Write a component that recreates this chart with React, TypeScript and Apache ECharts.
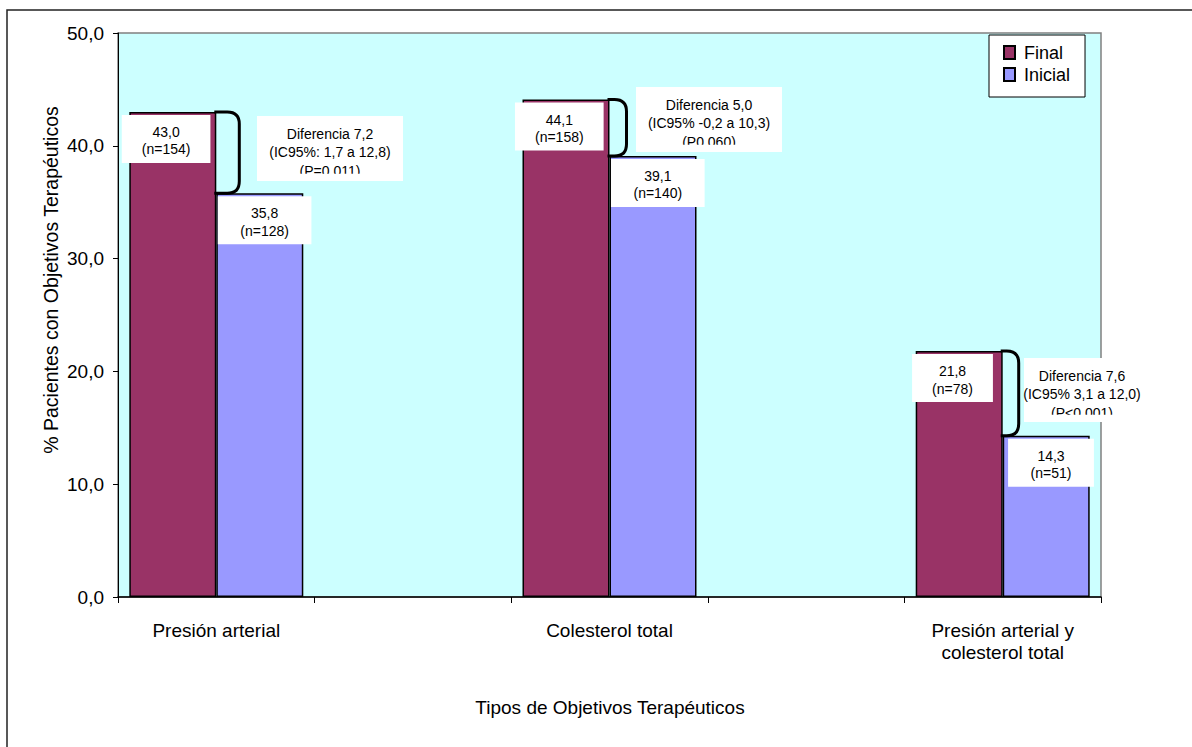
import React, { useEffect, useRef } from "react";
import * as echarts from "echarts";

// Objetivos terapéuticos: porcentaje de pacientes al inicio y al final
const CATEGORIES = ["Presión arterial", "Colesterol total", "Presión arterial y\ncolesterol total"];
const FINAL = [43.0, 44.1, 21.8];
const INICIAL = [35.8, 39.1, 14.3];
const FINAL_N = [154, 158, 78];
const INICIAL_N = [128, 140, 51];
const DIFERENCIAS = [
  "Diferencia 7,2\n(IC95%: 1,7 a 12,8)\n(P=0.011)",
  "Diferencia 5,0\n(IC95% -0,2 a 10,3)\n(P0.060)",
  "Diferencia 7,6\n(IC95% 3,1 a 12,0)\n(P<0.001)",
];
const Y_MIN = 0;
const Y_MAX = 50;
const Y_STEP = 10;

const FONT = "'Liberation Sans', Arial, sans-serif";
const BRACKET_REACH = [23, 17, 16];

// Each category is followed by an empty slot, so groups sit on every other band.
const slots: string[] = [];
CATEGORIES.forEach((c, i) => {
  slots.push(c);
  if (i < CATEGORIES.length - 1) slots.push("");
});
const slotOf = (i: number) => i * 2;

const spread = (vals: number[]) => {
  const out: (number | string)[] = slots.map(() => "-");
  vals.forEach((v, i) => (out[slotOf(i)] = v));
  return out;
};
const countOf = (ns: number[]) => {
  const m: Record<number, number> = {};
  ns.forEach((n, i) => (m[slotOf(i)] = n));
  return m;
};
const fmt = (v: number) => v.toFixed(1).replace(".", ",");

// Annotation boxes with the difference between both measurements
const noteBoxes = [
  { x: 257, y: 116, w: 146, h: 65 },
  { x: 636, y: 87, w: 146, h: 65 },
  { x: 1024, y: 358, w: 116, h: 64 },
];

export default function App() {
  const ref = useRef<HTMLDivElement>(null);

  useEffect(() => {
    if (!ref.current) return;
    const chart = echarts.init(ref.current, null, { renderer: "svg" });
    const finalN = countOf(FINAL_N);
    const inicialN = countOf(INICIAL_N);

    const labelBase = {
      show: true,
      position: "insideTop",
      distance: 3,
      backgroundColor: "#ffffff",
      color: "#000",
      fontFamily: FONT,
      fontSize: 14,
      lineHeight: 17.5,
      align: "center",
    };

    const graphics: any[] = [
      {
        type: "rect",
        shape: { x: 7, y: 10, width: 1300, height: 900 },
        style: { fill: "none", stroke: "#222", lineWidth: 1.5 },
        silent: true,
      },
      {
        type: "text",
        x: 51,
        y: 280,
        rotation: Math.PI / 2,
        style: {
          text: "% Pacientes con Objetivos Terapéuticos",
          fontFamily: FONT,
          fontSize: 19.5,
          fill: "#000",
          align: "center",
          verticalAlign: "middle",
        },
      },
      {
        type: "text",
        x: 610,
        y: 707,
        style: {
          text: "Tipos de Objetivos Terapéuticos",
          fontFamily: FONT,
          fontSize: 19,
          fill: "#000",
          align: "center",
          verticalAlign: "middle",
        },
      },
    ];

    noteBoxes.forEach((b, i) => {
      graphics.push({
        type: "rect",
        z: 100,
        shape: { x: b.x, y: b.y, width: b.w, height: b.h },
        style: { fill: "#ffffff" },
      });
      graphics.push({
        type: "text",
        z: 101,
        x: b.x + b.w / 2,
        y: b.y + 8.3,
        style: {
          text: DIFERENCIAS[i],
          fontFamily: FONT,
          fontSize: 14,
          lineHeight: 18.5,
          fill: "#000",
          align: "center",
          verticalAlign: "top",
        },
      });
      // inner text frame cuts the last line
      graphics.push({
        type: "rect",
        z: 102,
        shape: { x: b.x, y: b.y + b.h - 7.3, width: b.w, height: 7.3 },
        style: { fill: "#ffffff" },
      });
    });

    chart.setOption({
      animation: false,
      grid: {
        left: 118,
        top: 33,
        right: 91,
        bottom: 150,
        show: true,
        backgroundColor: "#CCFFFF",
        borderColor: "#808080",
        borderWidth: 1.5,
        containLabel: false,
        outerBoundsMode: "none",
      },
      legend: {
        data: ["Final", "Inicial"],
        orient: "vertical",
        left: 989,
        top: 35,
        padding: [8, 15, 13, 14],
        itemWidth: 11,
        itemHeight: 13,
        itemGap: 3,
        icon: "rect",
        selectedMode: false,
        backgroundColor: "#ffffff",
        borderColor: "#000",
        borderWidth: 1,
        textStyle: {
          fontFamily: FONT,
          fontSize: 18,
          lineHeight: 19,
          color: "#000",
          padding: [0, 0, 0, 4],
        },
      },
      xAxis: {
        type: "category",
        data: slots,
        axisLine: { lineStyle: { color: "#000", width: 1.5 } },
        axisTick: { show: true, length: 6, lineStyle: { color: "#000" } },
        axisLabel: {
          interval: 0,
          margin: 22,
          fontFamily: FONT,
          fontSize: 19,
          lineHeight: 22,
          color: "#000",
        },
      },
      yAxis: {
        type: "value",
        min: Y_MIN,
        max: Y_MAX,
        interval: Y_STEP,
        splitLine: { show: false },
        axisLine: { show: true, lineStyle: { color: "#000", width: 1 } },
        axisTick: { show: true, length: 5, lineStyle: { color: "#000" } },
        axisLabel: {
          margin: 14,
          fontFamily: FONT,
          fontSize: 19,
          color: "#000",
          formatter: (v: number) => fmt(v),
        },
      },
      series: [
        {
          name: "Final",
          type: "bar",
          barWidth: 87,
          barGap: "0%",
          data: spread(FINAL),
          itemStyle: { color: "#993366", borderColor: "#000", borderWidth: 1.5 },
          label: {
            ...labelBase,
            offset: [-6.7, 0],
            padding: [8.25, 20, 4.75, 20],
            formatter: (p: any) => `${fmt(p.value)}\n(n=${finalN[p.dataIndex]})`,
          },
        },
        {
          name: "Inicial",
          type: "bar",
          barWidth: 87,
          barGap: "0%",
          data: spread(INICIAL),
          itemStyle: { color: "#9999FF", borderColor: "#000", borderWidth: 1.5 },
          label: {
            ...labelBase,
            offset: [4.8, 0],
            padding: [8.25, 22.5, 4.75, 22.5],
            formatter: (p: any) => `${fmt(p.value)}\n(n=${inicialN[p.dataIndex]})`,
          },
        },
        {
          // curly bracket joining the two bar tops of each group
          name: "bracket",
          type: "custom",
          z: 5,
          silent: true,
          encode: { x: 0, y: [1, 2] },
          data: FINAL.map((f, i) => [slotOf(i), f, INICIAL[i]]),
          renderItem: (params: any, api: any) => {
            const slot = api.value(0);
            const top = api.coord([slot, api.value(1)]);
            const low = api.coord([slot, api.value(2)]);
            const x = top[0];
            const y1 = top[1];
            const y2 = low[1];
            const w = BRACKET_REACH[params.dataIndex] ?? 18;
            const r = Math.min(12, (y2 - y1) / 2);
            const d =
              `M${x - 2},${y1} L${x + w - r},${y1} Q${x + w},${y1} ${x + w},${y1 + r} ` +
              `L${x + w},${y2 - r} Q${x + w},${y2} ${x + w - r},${y2} L${x - 2},${y2}`;
            return {
              type: "path",
              shape: { pathData: d },
              style: { fill: "none", stroke: "#000", lineWidth: 3 },
            };
          },
        },
      ],
      graphic: graphics,
    });

    return () => chart.dispose();
  }, []);

  return (
    <div
      ref={ref}
      style={{ position: "absolute", left: 0, top: 0, width: 1192, height: 747, background: "#fff" }}
    />
  );
}
